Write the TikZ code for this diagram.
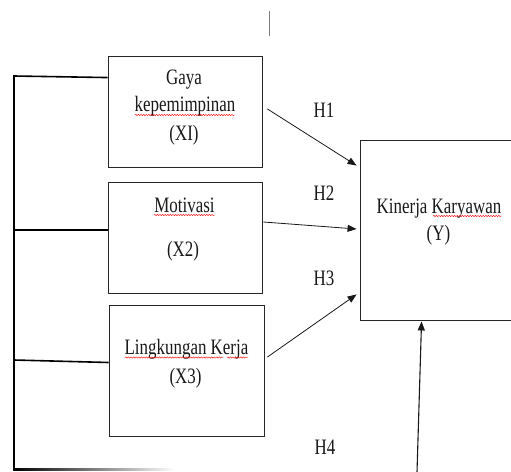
\documentclass[tikz,border=0pt]{standalone}
\usepackage{fontspec}
\setmainfont{Liberation Serif}[FakeStretch=0.77]
\usetikzlibrary{arrows.meta,decorations.pathmorphing,calc}
\begin{document}
\begin{tikzpicture}[x=1pt,y=-1pt,
  box/.style={draw=black!85,line width=0.9pt,inner sep=0pt},
  lbl/.style={anchor=base,inner sep=0pt,font=\fontsize{22}{26}\selectfont,text=black!90},
  arr/.style={-{Triangle[length=9pt,width=7pt]},line width=0.8pt,draw=black!90},
  frame/.style={line width=1.6pt,draw=black},
  spell/.style={draw=red,line width=0.4pt,decorate,decoration={snake,segment length=2.6pt,amplitude=0.7pt}}]
\useasboundingbox (0,0) rectangle (511,471);
\fill[white] (0,0) rectangle (511,471);
% boxes
\node[box,minimum width=154,minimum height=111] (x1) at (185,111.5) {};
\node[box,minimum width=154,minimum height=111] (x2) at (185,237.5) {};
\node[box,minimum width=155,minimum height=131] (x3) at (186.5,370.5) {};
\node[box,minimum width=156,minimum height=180] (y) at (438,230) {};
% texts
\node[lbl] (t1a) at (184,84.5) {Gaya};
\node[lbl] (t1b) at (185,111.5) {kepemimpinan};
\node[lbl] (t1c) at (184,140) {(XI)};
\node[lbl] (t2a) at (184.5,212) {Motivasi};
\node[lbl] (t2b) at (183,256) {(X2)};
\node[lbl] (t3a) at (186.5,354) {Lingkungan Kerja};
\node[lbl] (t3b) at (185.5,383) {(X3)};
\node[lbl] (tya) at (439,213) {Kinerja Karyawan};
\node[lbl] (tyb) at (438.5,240) {(Y)};
\node[lbl] (h1) at (324,117) {H1};
\node[lbl] (h2) at (324,200) {H2};
\node[lbl] (h3) at (324,285) {H3};
\node[lbl] (h4) at (325,454) {H4};
% spell-check underlines
\draw[spell] (135,115) -- (235,115);
\draw[spell] (154,215) -- (215,215);
\draw[spell] (125,357.5) -- (223,357.5);
\draw[spell] (227,357.5) -- (248,357.5);
\draw[spell] (433,216) -- (502,216);
% top small mark
\draw[gray,line width=0.8pt] (269,11) -- (269,36);
% arrows
\draw[arr] ($(x1.east)+(5,-2.5)$) -- ($(y.north west)+(-3,26)$);
\draw[arr] ($(x2.east)+(1,-15.5)$) -- ($(y.west)+(-3,-1)$);
\draw[arr] ($(x3.east)+(3,-13.5)$) -- ($(y.south west)+(-3,-26)$);
\coordinate (h4start) at (417,472);
\draw[arr,line width=1.1pt] (h4start) -- ($(y.south west)+(62,1)$);
% left frame
\coordinate (lt) at (14,76);
\coordinate (lb) at (14,469.5);
\draw[frame] ($(x1.north west)+(0,22)$) -- (lt) -- (lb);
\draw[frame] ($(x2.west)+(0,-7.5)$) -- (14,230);
\draw[frame] ($(x3.west)+(0,-8)$) -- (14,360);
\shade[left color=black,right color=white] (13.2,468.7) rectangle (175,470.5);
\end{tikzpicture}
\end{document}
